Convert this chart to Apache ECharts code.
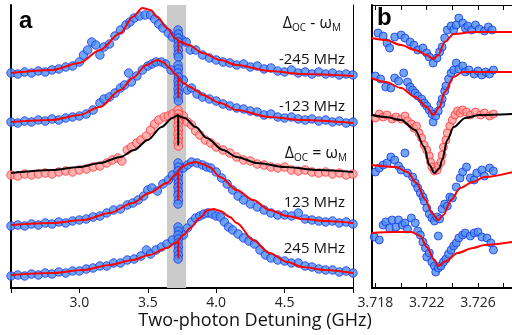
<!DOCTYPE html>
<html>
<head>
<meta charset="utf-8">
<script src="https://cdn.jsdelivr.net/npm/echarts@6/dist/echarts.min.js"></script>
<style>
  html, body { margin: 0; padding: 0; background: #fff; }
  #chart { width: 512px; height: 335px; }
</style>
</head>
<body>
<div id="chart"></div>
<script>
// panel a: two-photon detuning (GHz), offset signal (arb. units)
const bandA = [3.64, 3.78];
const tickLabelsA = [3.0, 3.5, 4.0, 4.5];
const ticksB = [3.718, 3.72, 3.722, 3.724, 3.726, 3.728];
const tickLabelsB = [3.718, 3.722, 3.726];
const traceNames = ["-245 MHz", "-123 MHz", "Δ = ω", "123 MHz", "245 MHz"];

const a1Fit = [[2.5,215],[2.8,218],[3.0,225],[3.15,238],[3.3,255],[3.39,271],[3.46,280],[3.52,278],[3.57,271],[3.64,260],[3.70,250],[3.7224,248],[3.7225,236],[3.7226,247],[3.8,243],[3.9,235],[4.03,228],[4.15,223],[4.39,217],[4.63,214],[5.0,212]];
const a1Dots = [[2.50,215],[2.55,214],[2.60,216],[2.65,215],[2.70,217],[2.75,216],[2.80,218],[2.85,219],[2.90,221],[2.95,222],[3.00,226],[3.03,233],[3.06,238],[3.09,246],[3.12,243],[3.15,233],[3.18,241],[3.22,244],[3.26,252],[3.30,258],[3.34,263],[3.37,266],[3.40,270],[3.44,272],[3.48,273],[3.52,273],[3.55,269],[3.58,264],[3.61,260],[3.65,255],[3.68,251],[3.75,248],[3.78,246],[3.81,238],[3.85,238],[3.90,233],[3.95,230],[4.00,228],[4.05,226],[4.10,225],[4.15,223],[4.20,224],[4.25,221],[4.30,222],[4.35,219],[4.40,220],[4.45,217],[4.50,216],[4.55,218],[4.60,215],[4.65,216],[4.70,214],[4.75,216],[4.80,214],[4.85,215],[4.90,213],[4.95,214],[5.00,213],
  [3.721,258],[3.7235,254],[3.721,250],[3.7235,246],[3.721,242],[3.7235,238],[3.721,234],[3.7235,231]];

const a2Fit = [[2.5,166],[2.8,168],[3.0,173],[3.15,181],[3.3,198],[3.39,210],[3.49,223],[3.57,228],[3.61,226],[3.66,220],[3.70,214],[3.7224,212],[3.7225,190],[3.7226,210],[3.76,205],[3.81,201],[3.86,197],[3.90,193],[4.03,185],[4.15,178],[4.39,171],[4.63,168],[5.0,165]];
const a2Dots = [[2.50,166],[2.55,165],[2.60,167],[2.65,166],[2.70,168],[2.75,167],[2.80,169],[2.85,168],[2.90,170],[2.95,171],[3.00,172],[3.05,174],[3.10,178],[3.15,185],[3.18,189],[3.22,191],[3.26,195],[3.30,200],[3.33,203],[3.36,215],[3.38,206],[3.42,212],[3.46,218],[3.50,222],[3.53,224],[3.56,226],[3.60,226],[3.63,224],[3.67,218],[3.76,208],[3.79,198],[3.82,200],[3.86,194],[3.90,191],[3.95,189],[4.00,187],[4.05,184],[4.10,182],[4.15,180],[4.20,179],[4.25,177],[4.30,176],[4.35,173],[4.40,174],[4.45,171],[4.50,170],[4.55,171],[4.60,169],[4.65,168],[4.70,169],[4.75,167],[4.80,168],[4.85,166],[4.90,167],[4.95,165],[5.00,166],
  [3.721,223],[3.7235,219],[3.721,215],[3.7235,211],[3.721,207],[3.7235,203],[3.721,199],[3.7235,195],[3.721,191],[3.7235,187]];

const a3Fit = [[2.5,115],[2.8,118],[3.0,121],[3.15,125],[3.3,131],[3.4,138],[3.5,148],[3.6,161],[3.68,170],[3.7224,173],[3.7225,143],[3.7226,172],[3.77,170],[3.85,161],[3.93,150],[4.05,138],[4.15,131],[4.3,125],[4.5,121],[4.75,118],[5.0,116]];
const a3Dots = [[2.50,113],[2.55,112],[2.60,114],[2.65,113],[2.70,114],[2.75,115],[2.80,114],[2.85,116],[2.90,117],[2.95,116],[3.00,118],[3.05,119],[3.10,121],[3.15,122],[3.20,125],[3.24,128],[3.28,130],[3.31,127],[3.35,138],[3.38,141],[3.42,145],[3.45,148],[3.49,152],[3.52,158],[3.55,164],[3.58,168],[3.62,171],[3.65,172],[3.68,174],[3.76,172],[3.79,166],[3.82,163],[3.85,157],[3.88,153],[3.92,148],[3.96,145],[4.00,141],[4.05,138],[4.10,135],[4.15,131],[4.20,128],[4.25,127],[4.30,124],[4.35,123],[4.40,121],[4.45,120],[4.50,121],[4.55,118],[4.60,117],[4.65,118],[4.70,116],[4.75,115],[4.80,116],[4.85,114],[4.90,115],[4.95,113],[5.00,114],
  [3.721,178],[3.7235,174],[3.721,170],[3.7235,166],[3.721,162],[3.7235,158],[3.721,154],[3.7235,150],[3.721,146],[3.7235,142]];

const a4Fit = [[2.5,63],[2.8,65],[3.03,68],[3.22,75],[3.39,85],[3.51,95],[3.64,105],[3.70,113],[3.7224,116],[3.7225,88],[3.7226,118],[3.76,122],[3.81,125],[3.85,126],[3.90,124],[3.95,121],[4.03,111],[4.15,98],[4.27,88],[4.39,78],[4.52,72],[4.63,69],[4.8,67],[5.0,65]];
const a4Dots = [[2.50,62],[2.55,63],[2.60,62],[2.65,64],[2.70,63],[2.75,65],[2.80,64],[2.85,66],[2.90,65],[2.95,67],[3.00,68],[3.05,69],[3.10,71],[3.15,72],[3.20,75],[3.25,78],[3.30,79],[3.35,83],[3.39,85],[3.43,88],[3.47,92],[3.50,98],[3.53,100],[3.57,97],[3.61,104],[3.65,108],[3.68,113],[3.76,120],[3.79,123],[3.82,126],[3.86,125],[3.90,123],[3.93,121],[3.96,120],[4.00,116],[4.04,110],[4.08,104],[4.12,98],[4.16,92],[4.20,88],[4.25,84],[4.30,81],[4.35,78],[4.40,75],[4.45,73],[4.50,73],[4.55,72],[4.60,75],[4.65,69],[4.70,68],[4.75,67],[4.80,66],[4.85,67],[4.90,65],[4.95,66],[5.00,64],
  [3.721,125],[3.7235,121],[3.721,117],[3.7235,113],[3.721,109],[3.7235,105],[3.721,101],[3.7235,97],[3.721,93],[3.7235,88],[3.721,84]];

const a5Fit = [[2.5,13],[2.8,15],[3.03,18],[3.22,23],[3.39,28],[3.51,33],[3.64,40],[3.70,45],[3.7224,47],[3.7225,30],[3.7226,48],[3.76,53],[3.81,60],[3.88,70],[3.94,78],[3.98,79],[4.03,77],[4.10,71],[4.15,65],[4.27,48],[4.39,35],[4.52,26],[4.63,21],[4.8,18],[5.0,15]];
const a5Dots = [[2.50,12],[2.55,13],[2.60,12],[2.65,14],[2.70,13],[2.75,15],[2.80,14],[2.85,16],[2.90,15],[2.95,17],[3.00,17],[3.05,19],[3.10,20],[3.15,22],[3.20,22],[3.25,25],[3.30,25],[3.35,28],[3.40,29],[3.45,32],[3.49,38],[3.52,34],[3.56,38],[3.60,41],[3.64,44],[3.68,48],[3.76,53],[3.79,60],[3.82,66],[3.85,70],[3.88,72],[3.91,74],[3.94,75],[3.97,74],[4.00,72],[4.03,71],[4.06,66],[4.09,61],[4.12,58],[4.16,54],[4.20,50],[4.24,47],[4.28,44],[4.32,38],[4.36,33],[4.40,30],[4.45,28],[4.50,27],[4.55,25],[4.60,25],[4.65,22],[4.70,21],[4.75,19],[4.80,18],[4.85,18],[4.90,16],[4.95,17],[5.00,15],
  [3.721,61],[3.7235,57],[3.721,53],[3.7235,49],[3.721,45],[3.7235,41],[3.721,37],[3.7235,33],[3.721,29]];

// panel b: zoom on the narrow feature
const b1Fit = [[3.7177,250],[3.7188,248],[3.7200,243],[3.7211,238],[3.7220,233],[3.7225,229],[3.7229,233],[3.7234,246],[3.7241,254],[3.7257,256],[3.7287,256]];
const b1Dots = [[3.7176,256],[3.7182,255],[3.7186,252],[3.7189,245],[3.7191,240],[3.7195,251],[3.7200,253],[3.7203,250],[3.7207,246],[3.7210,243],[3.7213,238],[3.7217,240],[3.7220,235],[3.7222,231],[3.7225,225],[3.7228,230],[3.7230,236],[3.7232,241],[3.7234,250],[3.7236,258],[3.7239,262],[3.7241,258],[3.7243,263],[3.7245,270],[3.7248,265],[3.7250,260],[3.7252,262],[3.7255,258],[3.7258,263],[3.7261,259],[3.7265,257],[3.7268,261],[3.7271,258]];

const b2Fit = [[3.7177,210],[3.7188,206],[3.7200,200],[3.7211,191],[3.7220,181],[3.7225,173],[3.7230,181],[3.7234,196],[3.7241,211],[3.7248,216],[3.7287,216]];
const b2Dots = [[3.7176,208],[3.7180,212],[3.7184,209],[3.7188,201],[3.7192,200],[3.7195,210],[3.7198,207],[3.7202,215],[3.7205,206],[3.7207,201],[3.7209,198],[3.7211,195],[3.7213,192],[3.7216,189],[3.7218,185],[3.7220,182],[3.7222,178],[3.7224,174],[3.7225,166],[3.7227,172],[3.7229,177],[3.7231,184],[3.7232,189],[3.7234,197],[3.7235,202],[3.7237,209],[3.7239,215],[3.7241,218],[3.7243,225],[3.7245,219],[3.7248,222],[3.7250,216],[3.7253,218],[3.7257,214],[3.7260,217],[3.7263,213],[3.7266,216],[3.7269,214],[3.7272,218]];

const b3Fit = [[3.7177,173],[3.7188,171],[3.7200,168],[3.7211,158],[3.7218,141],[3.7222,123],[3.7226,115],[3.7230,120],[3.7232,128],[3.7236,148],[3.7241,161],[3.7250,170],[3.7261,173],[3.7287,174]];
const b3Dots = [[3.7176,172],[3.7180,170],[3.7183,174],[3.7186,171],[3.7189,173],[3.7193,169],[3.7196,171],[3.7200,169],[3.7203,172],[3.7205,167],[3.7208,164],[3.7210,160],[3.7212,162],[3.7214,155],[3.7216,150],[3.7218,143],[3.7220,138],[3.7222,132],[3.7223,126],[3.7224,121],[3.7226,117],[3.7228,118],[3.7229,122],[3.7231,126],[3.7232,133],[3.7233,141],[3.7235,148],[3.7236,155],[3.7238,162],[3.7240,168],[3.7242,173],[3.7244,177],[3.7246,175],[3.7248,178],[3.7251,176],[3.7254,173],[3.7258,176],[3.7262,173],[3.7265,175],[3.7269,172],[3.7272,174]];

const b4Fit = [[3.7177,123],[3.7196,121],[3.7205,116],[3.7212,105],[3.7219,88],[3.7224,75],[3.7229,68],[3.7233,73],[3.7239,88],[3.7246,100],[3.7256,106],[3.7265,111],[3.7287,116]];
const b4Dots = [[3.7177,122],[3.7180,116],[3.7183,120],[3.7186,123],[3.7189,125],[3.7192,131],[3.7195,128],[3.7198,122],[3.7200,118],[3.7203,135],[3.7205,115],[3.7209,111],[3.7211,105],[3.7213,100],[3.7215,95],[3.7217,91],[3.7218,87],[3.7220,80],[3.7222,74],[3.7224,70],[3.7226,67],[3.7228,71],[3.7229,52],[3.7230,69],[3.7232,79],[3.7234,84],[3.7236,82],[3.7238,91],[3.7240,90],[3.7243,101],[3.7246,110],[3.7248,116],[3.7251,121],[3.7254,110],[3.7257,108],[3.7259,115],[3.7263,118],[3.7265,112],[3.7269,120],[3.7272,117]];

const b5Fit = [[3.7177,55],[3.7194,56],[3.7208,56],[3.7215,52],[3.7220,41],[3.7226,28],[3.7229,22],[3.7235,27],[3.7244,35],[3.7256,40],[3.7265,43],[3.7287,46]];
const b5Dots = [[3.7177,65],[3.7179,51],[3.7183,48],[3.7186,63],[3.7188,66],[3.7191,60],[3.7193,68],[3.7196,61],[3.7198,68],[3.7201,63],[3.7203,65],[3.7205,59],[3.7208,70],[3.7211,65],[3.7213,57],[3.7215,53],[3.7217,46],[3.7219,40],[3.7220,31],[3.7222,35],[3.7224,26],[3.7226,22],[3.7227,16],[3.7229,20],[3.7231,22],[3.7233,26],[3.7235,29],[3.7237,34],[3.7239,38],[3.7241,42],[3.7243,45],[3.7245,50],[3.7248,53],[3.7250,55],[3.7254,52],[3.7257,55],[3.7260,56],[3.7263,51],[3.7267,50],[3.7270,45],[3.7272,38]];

const fitsA = [a1Fit, a2Fit, a3Fit, a4Fit, a5Fit];
const dotsA = [a1Dots, a2Dots, a3Dots, a4Dots, a5Dots];
const fitsB = [b1Fit, b2Fit, b3Fit, b4Fit, b5Fit];
const dotsB = [b1Dots, b2Dots, b3Dots, b4Dots, b5Dots];

const blueDot = { color: "#4d8ff0", borderColor: "#1636e8", borderWidth: 1 };
const redDot = { color: "#ff9d9d", borderColor: "#ff3535", borderWidth: 1 };
const font = "Open Sans";

const chart = echarts.init(document.getElementById("chart"));

let series = [];
series.push({
  type: "line", xAxisIndex: 0, yAxisIndex: 0, data: [], silent: true, z: 0,
  markArea: {
    silent: true,
    itemStyle: { color: "#cbcbcb" },
    data: [[{ xAxis: bandA[0] }, { xAxis: bandA[1] }]],
  },
});
[0, 1].forEach((p) => {
  const dots = p === 0 ? dotsA : dotsB;
  const fits = p === 0 ? fitsA : fitsB;
  dots.forEach((d, i) => {
    series.push({
      name: traceNames[i], type: "scatter", xAxisIndex: p * 2, yAxisIndex: p * 2,
      data: d, symbolSize: p === 0 ? 8.5 : 8, itemStyle: i === 2 ? redDot : blueDot, z: 2,
    });
  });
  fits.forEach((f, i) => {
    series.push({
      type: "line", xAxisIndex: p * 2, yAxisIndex: p * 2, data: f, showSymbol: false,
      smooth: 0.3, smoothMonotone: "x",
      lineStyle: { color: i === 2 ? "#000" : "#ff0000", width: 2 }, z: 3,
    });
  });
});

const hidden = { show: false };
const option = {
  animation: false,
  backgroundColor: "#fff",
  grid: [
    { left: 11, top: 5, width: 342, height: 283 },
    { left: 372, top: 5, width: 160, height: 283 },
  ],
  xAxis: [
    {
      type: "value", gridIndex: 0, position: "bottom", min: 2.5, max: 5.0, interval: 0.5,
      axisLine: { lineStyle: { color: "#000", width: 2 } }, axisTick: hidden, splitLine: hidden,
      axisLabel: {
        customValues: tickLabelsA, formatter: (v) => v.toFixed(1),
        color: "#222", fontSize: 14, fontFamily: font, margin: 8,
      },
    },
    {
      type: "value", gridIndex: 0, position: "top", min: 2.5, max: 5.0, interval: 0.5,
      axisLine: { lineStyle: { color: "#000", width: 1 } },
      axisTick: { inside: true, length: 5, lineStyle: { color: "#000" } },
      axisLabel: hidden, splitLine: hidden,
    },
    {
      type: "value", gridIndex: 1, position: "bottom", min: 3.71773, max: 3.72865,
      axisLine: { lineStyle: { color: "#000", width: 2 } },
      axisTick: { inside: true, length: 5, customValues: ticksB, lineStyle: { color: "#000" } },
      splitLine: hidden,
      axisLabel: {
        customValues: tickLabelsB, formatter: (v) => v.toFixed(3),
        color: "#222", fontSize: 14, fontFamily: font, margin: 8,
      },
    },
    {
      type: "value", gridIndex: 1, position: "top", min: 3.71773, max: 3.72865,
      axisLine: { lineStyle: { color: "#000", width: 1 } },
      axisTick: { inside: true, length: 5, customValues: ticksB, lineStyle: { color: "#000" } },
      axisLabel: hidden, splitLine: hidden,
    },
  ],
  yAxis: [
    { type: "value", gridIndex: 0, position: "left", min: 0, max: 283,
      axisLine: { show: true, lineStyle: { color: "#000", width: 2 } }, axisTick: hidden, axisLabel: hidden, splitLine: hidden },
    { type: "value", gridIndex: 0, position: "right", min: 0, max: 283,
      axisLine: { show: true, lineStyle: { color: "#000", width: 1 } }, axisTick: hidden, axisLabel: hidden, splitLine: hidden },
    { type: "value", gridIndex: 1, position: "left", min: 0, max: 283,
      axisLine: { show: true, lineStyle: { color: "#000", width: 2 } }, axisTick: hidden, axisLabel: hidden, splitLine: hidden },
  ],
  series: series,
  graphic: [
    { type: "text", left: 19, top: 9, z: 10,
      style: { text: "a", font: "bold 24px 'Liberation Sans'", fill: "#000" } },
    { type: "text", left: 377, top: 6, z: 10,
      style: { text: "b", font: "bold 24px 'Liberation Sans'", fill: "#000" } },
    { type: "text", x: 255, y: 321, z: 10,
      style: { text: "Two-photon Detuning (GHz)", fontSize: 18, fontFamily: font, fill: "#111", align: "center", verticalAlign: "middle" } },
  ],
};

// trace annotations in panel a
const rich = {
  m: { fontSize: 16, fontFamily: font, lineHeight: 20, verticalAlign: "middle", fill: "#111" },
  s: { fontSize: 10, fontFamily: font, lineHeight: 10, verticalAlign: "bottom", fill: "#111" },
};
const notes = [
  ["{m|Δ}{s|OC}{m| - ω}{s|M}", 341, 23],
  ["-245 MHz", 345, 60],
  ["-123 MHz", 345, 107],
  ["{m|Δ}{s|OC}{m| = ω}{s|M}", 347, 153],
  ["123 MHz", 345, 203],
  ["245 MHz", 345, 249],
];
notes.forEach(([t, x, y]) => {
  option.graphic.push({
    type: "text", x: x, y: y, z: 10,
    style: { text: t, rich: rich, fontSize: 15, fontFamily: font, fill: "#111", align: "right", verticalAlign: "middle" },
  });
});

chart.setOption(option);
</script>
</body>
</html>
